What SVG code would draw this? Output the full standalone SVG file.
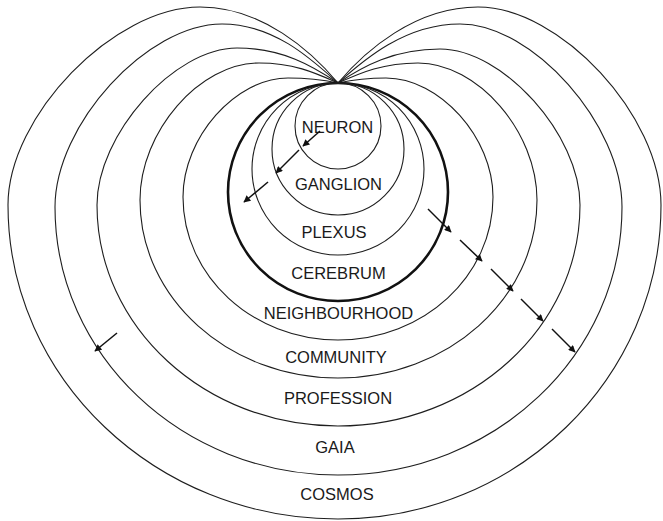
<svg xmlns="http://www.w3.org/2000/svg" width="663" height="521" viewBox="0 0 663 521">
<style>
.ring{fill:none;stroke:#1e1e1e;stroke-width:1.1}
.thick{fill:none;stroke:#111;stroke-width:2.6}
.lbl{font-family:"Liberation Sans",Arial,Helvetica,sans-serif;font-size:16.5px;fill:#1a1a1a;text-anchor:middle}
.arr{stroke:#111;stroke-width:1.5;fill:none;marker-end:url(#ah)}
</style>
<defs>
<marker id="ah" viewBox="0 0 10 10" refX="9" refY="5" markerWidth="10" markerHeight="7" markerUnits="userSpaceOnUse" orient="auto">
<path d="M0,0 L10,5 L0,10 z" fill="#111"/>
</marker>
</defs>
<rect width="663" height="521" fill="#fff"/>
<g id="cosmos">
<path class="ring" d="M338,83 C311.4,51.3 262.1,7 200,7 C113.6,7 8,115.9 8,205 C8,378.3 155.8,519 338,519 C516.3,519 661,378.3 661,205 C661,115.9 560.4,7 478,7 C415,7 364.6,51.3 338,83 Z"/>
<text class="lbl" x="337" y="500">COSMOS</text>
</g>
<g id="gaia">
<path class="ring" d="M338,83 C312.1,59.7 274.2,24 222,24 C146.9,24 55,124.7 55,207 C55,354.9 181.8,475 338,475 C494.8,475 622,354.9 622,207 C622,124.7 532.9,24 460,24 C405.1,24 363.9,59.7 338,83 Z"/>
<text class="lbl" x="335" y="453">GAIA</text>
</g>
<g id="profession">
<path class="ring" d="M338,83 C312.9,66.1 282.5,48 237,48 C174,48 97,134.4 97,205 C97,327 205,426 338,426 C471.6,426 580,327 580,205 C580,134.9 503,49 440,49 C394.1,49 363.1,66.1 338,83 Z"/>
<text class="lbl" x="338" y="404">PROFESSION</text>
</g>
<g id="community">
<path class="ring" d="M338,83 C316.3,73.4 294.6,63 259,63 C199.5,63 140,131.5 140,200 C140,298.3 228.7,378 338,378 C447.8,378 537,298.3 537,200 C537,131.5 477.5,63 418,63 C382,63 359.7,73.4 338,83 Z"/>
<text class="lbl" x="336" y="363">COMMUNITY</text>
</g>
<g id="neighbourhood">
<path class="ring" d="M338,83 C323.9,80 310.5,78 288,78 C235.5,78 183,137.5 183,197 C183,275.9 252.4,340 338,340 C423.6,340 493,275.9 493,197 C493,137.5 439.5,78 386,78 C364.4,78 352.1,80 338,83 Z"/>
<text class="lbl" x="338.5" y="319">NEIGHBOURHOOD</text>
</g>
<g id="cerebrum">
<ellipse class="thick" cx="338" cy="192" rx="110" ry="109"/>
<text class="lbl" x="338.5" y="279">CEREBRUM</text>
</g>
<g id="plexus">
<circle class="ring" cx="338" cy="169" r="86"/>
<text class="lbl" x="334" y="238">PLEXUS</text>
</g>
<g id="ganglion">
<circle class="ring" cx="338" cy="149" r="66"/>
<text class="lbl" x="338.5" y="190">GANGLION</text>
</g>
<g id="neuron">
<circle class="ring" cx="338" cy="126" r="43"/>
<text class="lbl" x="337.5" y="133">NEURON</text>
</g>
<g id="connectors">
<line class="arr" x1="320" y1="131" x2="303" y2="146"/>
<line class="arr" x1="299" y1="150" x2="276" y2="173"/>
<line class="arr" x1="268" y1="182" x2="244" y2="202"/>
<line class="arr" x1="117" y1="333" x2="95" y2="351"/>
<line class="arr" x1="428" y1="209" x2="451" y2="232"/>
<line class="arr" x1="460" y1="240" x2="482" y2="261"/>
<line class="arr" x1="491" y1="269" x2="513" y2="291"/>
<line class="arr" x1="521" y1="299" x2="543" y2="321"/>
<line class="arr" x1="552" y1="329" x2="575" y2="352"/>
</g>
</svg>
